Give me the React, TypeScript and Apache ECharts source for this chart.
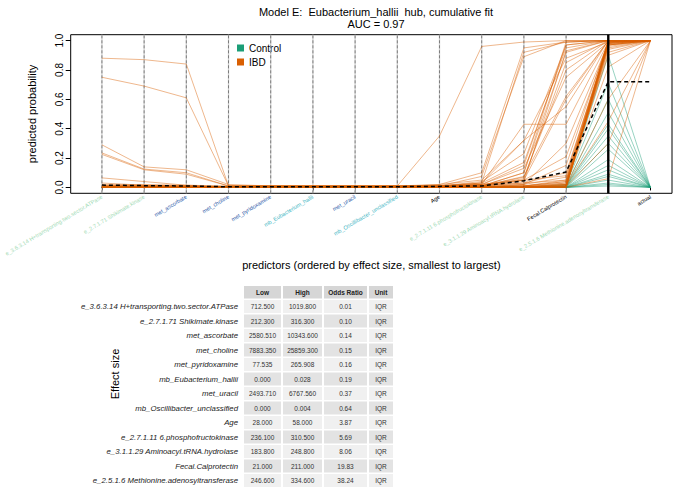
import React, { useEffect, useRef } from "react";
import * as echarts from "echarts";

const FONT = '"Liberation Sans", Arial, Helvetica, sans-serif';

const predictors = [
  "e_3.6.3.14 H+transporting.two.sector.ATPase",
  "e_2.7.1.71 Shikimate.kinase",
  "met_ascorbate",
  "met_choline",
  "met_pyridoxamine",
  "mb_Eubacterium_hallii",
  "met_uracil",
  "mb_Oscillibacter_unclassified",
  "Age",
  "e_2.7.1.11 6.phosphofructokinase",
  "e_3.1.1.29 Aminoacyl.tRNA.hydrolase",
  "Fecal.Calprotectin",
  "e_2.5.1.6 Methionine.adenosyltransferase",
  "actual",
];
const predictorColors = [
  "#a1dab4", "#a1dab4", "#2c5aa8", "#2c5aa8", "#2c5aa8", "#41b6c4", "#2c5aa8",
  "#41b6c4", "#000000", "#a1dab4", "#a1dab4", "#000000", "#a1dab4", "#000000",
];
const positions = [1, 2, 3, 4, 5, 6, 7, 8, 9, 10, 11, 12, 13, 14];
const yTicks = [0, 0.2, 0.4, 0.6, 0.8, 1.0];

const IBD_ACTUAL = 1;
const CONTROL_ACTUAL = 0;

// predicted probability per predictor step (c1..c13) for each IBD subject
const ibdPaths = [
  [0.88, 0.87, 0.84, 0.01, 0.01, 0.01, 0.01, 0.01, 0.01, 0.02, 0.15, 0.97, 1.0],
  [0.75, 0.69, 0.61, 0.01, 0.01, 0.01, 0.01, 0.01, 0.01, 0.01, 0.1, 0.92, 1.0],
  [0.29, 0.14, 0.12, 0.02, 0.01, 0.01, 0.01, 0.01, 0.01, 0.03, 0.92, 0.99, 1.0],
  [0.235, 0.125, 0.1, 0.01, 0.01, 0.01, 0.01, 0.01, 0.02, 0.05, 0.32, 0.88, 0.99],
  [0.225, 0.12, 0.09, 0.01, 0.01, 0.01, 0.01, 0.01, 0.01, 0.02, 0.43, 0.43, 0.99],
  [0.065, 0.04, 0.015, 0.01, 0.01, 0.01, 0.01, 0.01, 0.01, 0.01, 0.07, 0.8, 1.0],
  [0.03, 0.015, 0.01, 0.005, 0.005, 0.005, 0.005, 0.005, 0.01, 0.02, 0.05, 0.6, 1.0],
  [0.01, 0.01, 0.01, 0, 0, 0, 0, 0.01, 0.35, 0.96, 0.99, 1.0, 1.0],
  [0.02, 0.02, 0.015, 0.005, 0.005, 0.005, 0.005, 0.005, 0.02, 0.1, 0.95, 0.99, 1.0],
  [0.01, 0.01, 0.01, 0, 0, 0, 0, 0, 0.01, 0.075, 0.89, 1.0, 1.0],
  [0.01, 0.01, 0.01, 0, 0, 0, 0, 0, 0.01, 0.04, 0.23, 0.97, 1.0],
  [0.01, 0.01, 0.01, 0, 0, 0, 0, 0, 0.01, 0.03, 0.17, 0.95, 1.0],
  [0.01, 0.01, 0.005, 0, 0, 0, 0, 0, 0.005, 0.02, 0.13, 0.75, 0.99],
  [0.01, 0.01, 0.005, 0, 0, 0, 0, 0, 0.005, 0.01, 0.1, 0.99, 1.0],
  [0.005, 0.005, 0.005, 0, 0, 0, 0, 0, 0.005, 0.01, 0.075, 0.62, 1.0],
  [0.005, 0.005, 0.005, 0, 0, 0, 0, 0, 0.005, 0.01, 0.05, 0.21, 0.98],
  [0.005, 0.005, 0.005, 0, 0, 0, 0, 0, 0.005, 0.01, 0.03, 0.1, 0.97],
  [0.005, 0.005, 0.005, 0, 0, 0, 0, 0, 0.005, 0.005, 0.02, 0.07, 0.99],
  [0.005, 0, 0, 0, 0, 0, 0, 0, 0, 0.005, 0.02, 0.15, 1.0],
  [0.005, 0, 0, 0, 0, 0, 0, 0, 0, 0.005, 0.01, 0.05, 0.99],
  [0, 0, 0, 0, 0, 0, 0, 0, 0.01, 0.03, 0.32, 0.55, 1.0],
  [0, 0, 0, 0, 0, 0, 0, 0, 0, 0.01, 0.06, 0.85, 1.0],
  [0, 0, 0, 0, 0, 0, 0, 0, 0, 0.01, 0.04, 0.93, 1.0],
  [0, 0, 0, 0, 0, 0, 0, 0, 0, 0, 0.02, 0.3, 0.98],
  [0, 0, 0, 0, 0, 0, 0, 0, 0, 0, 0.01, 0.04, 1.0],
  [0, 0, 0, 0, 0, 0, 0, 0, 0, 0, 0.01, 0.03, 0.99],
  [0, 0, 0, 0, 0, 0, 0, 0, 0, 0, 0.01, 0.02, 0.99],
  [0, 0, 0, 0, 0, 0, 0, 0, 0, 0, 0.005, 0.02, 0.98],
  [0, 0, 0, 0, 0, 0, 0, 0, 0, 0, 0.005, 0.01, 0.97],
  [0, 0, 0, 0, 0, 0, 0, 0, 0, 0, 0, 0.01, 1.0],
  [0, 0, 0, 0, 0, 0, 0, 0, 0, 0, 0, 0.01, 0.99],
  [0, 0, 0, 0, 0, 0, 0, 0, 0, 0, 0, 0.005, 0.96],
  [0, 0, 0, 0, 0, 0, 0, 0, 0, 0, 0, 0.005, 0.95],
  [0, 0, 0, 0, 0, 0, 0, 0, 0, 0, 0, 0, 0.99],
  [0, 0, 0, 0, 0, 0, 0, 0, 0, 0, 0, 0, 0.98],
  [0, 0, 0, 0, 0, 0, 0, 0, 0, 0, 0, 0, 0.97],
  [0, 0, 0, 0, 0, 0, 0, 0, 0, 0, 0, 0.02, 0.94],
  [0, 0, 0, 0, 0, 0, 0, 0, 0, 0, 0, 0.03, 0.92],
  [0, 0, 0, 0, 0, 0, 0, 0, 0, 0, 0.01, 0.04, 0.9],
  [0, 0, 0, 0, 0, 0, 0, 0, 0, 0, 0, 0.02, 0.82],
  [0, 0, 0, 0, 0, 0, 0, 0, 0, 0, 0, 0.01, 0.6],
  [0, 0, 0, 0, 0, 0, 0, 0, 0, 0, 0, 0.01, 0.45],
  [0, 0, 0, 0, 0, 0, 0, 0, 0, 0, 0, 0.005, 0.3],
  [0, 0, 0, 0, 0, 0, 0, 0, 0, 0, 0, 0, 0.06],
  [0, 0, 0, 0, 0, 0, 0, 0, 0, 0.01, 0.03, 0.05, 0.97],
  [0, 0, 0, 0, 0, 0, 0, 0, 0, 0.02, 0.05, 0.08, 1.0],
];

// predicted probability per predictor step (c1..c13) for each Control subject
const controlPaths = [
  [0, 0, 0, 0, 0, 0, 0, 0, 0, 0, 0, 0.01, 0.9],
  [0, 0, 0, 0, 0, 0, 0, 0, 0, 0, 0, 0.02, 0.71],
  [0, 0, 0, 0, 0, 0, 0, 0, 0, 0, 0, 0.01, 0.6],
  [0, 0, 0, 0, 0, 0, 0, 0, 0, 0, 0, 0.01, 0.51],
  [0, 0, 0, 0, 0, 0, 0, 0, 0, 0, 0, 0.01, 0.43],
  [0, 0, 0, 0, 0, 0, 0, 0, 0, 0, 0, 0.005, 0.4],
  [0, 0, 0, 0, 0, 0, 0, 0, 0, 0, 0, 0.005, 0.35],
  [0, 0, 0, 0, 0, 0, 0, 0, 0, 0, 0, 0.005, 0.3],
  [0, 0, 0, 0, 0, 0, 0, 0, 0, 0, 0, 0, 0.26],
  [0, 0, 0, 0, 0, 0, 0, 0, 0, 0, 0, 0, 0.19],
  [0, 0, 0, 0, 0, 0, 0, 0, 0, 0, 0, 0, 0.15],
  [0, 0, 0, 0, 0, 0, 0, 0, 0, 0, 0, 0, 0.12],
  [0, 0, 0, 0, 0, 0, 0, 0, 0, 0, 0, 0, 0.09],
  [0, 0, 0, 0, 0, 0, 0, 0, 0, 0, 0, 0, 0.075],
  [0, 0, 0, 0, 0, 0, 0, 0, 0, 0, 0, 0, 0.05],
  [0, 0, 0, 0, 0, 0, 0, 0, 0, 0, 0, 0, 0.03],
  [0, 0, 0, 0, 0, 0, 0, 0, 0, 0, 0, 0, 0.02],
  [0, 0, 0, 0, 0, 0, 0, 0, 0, 0, 0, 0, 0.01],
];

// mean curve (dashed)
const meanPath = [0.016, 0.012, 0.01, 0.004, 0.004, 0.004, 0.004, 0.005, 0.007, 0.01, 0.045, 0.105, 0.72, 0.72];

// effect size table
const tableHeader = ["Low", "High", "Odds Ratio", "Unit"];
const tableNames = [
  "e_3.6.3.14 H+transporting.two.sector.ATPase",
  "e_2.7.1.71 Shikimate.kinase",
  "met_ascorbate",
  "met_choline",
  "met_pyridoxamine",
  "mb_Eubacterium_hallii",
  "met_uracil",
  "mb_Oscillibacter_unclassified",
  "Age",
  "e_2.7.1.11 6.phosphofructokinase",
  "e_3.1.1.29 Aminoacyl.tRNA.hydrolase",
  "Fecal.Calprotectin",
  "e_2.5.1.6 Methionine.adenosyltransferase",
];
const tableLow = ["712.500", "212.300", "2580.510", "7883.350", "77.535", "0.000", "2493.710", "0.000", "28.000", "236.100", "183.800", "21.000", "246.600"];
const tableHigh = ["1019.800", "316.300", "10343.600", "25859.300", "265.908", "0.028", "6767.560", "0.004", "58.000", "310.500", "248.800", "211.000", "334.600"];
const tableOdds = ["0.01", "0.10", "0.14", "0.15", "0.16", "0.19", "0.37", "0.64", "3.87", "5.69", "8.06", "19.83", "38.24"];
const tableUnit = ["IQR", "IQR", "IQR", "IQR", "IQR", "IQR", "IQR", "IQR", "IQR", "IQR", "IQR", "IQR", "IQR"];

const IBD_COLOR = "#d95f02";
const CONTROL_COLOR = "#1b9e77";

function buildTable(): any[] {
  const els: any[] = [];
  const colX = [244, 283, 324, 369];
  const colW = [37, 39, 43, 24];
  const top = 286;
  const headH = 14;
  const rowH = 14.5;
  const gap = 1.5;
  tableHeader.forEach((h, c) => {
    els.push({ type: "rect", shape: { x: colX[c], y: top, width: colW[c], height: headH - gap }, style: { fill: "#d6d6d6" } });
    els.push({
      type: "text", x: colX[c] + colW[c] / 2, y: top + (headH - gap) / 2,
      style: { text: h, fontSize: 6.5, fontWeight: "bold", fontFamily: FONT, fill: "#222", textAlign: "center", textVerticalAlign: "middle" },
    });
  });
  const cols = [tableLow, tableHigh, tableOdds, tableUnit];
  tableNames.forEach((n, r) => {
    const y0 = top + headH + r * rowH;
    const fill = r % 2 === 0 ? "#f0f0f0" : "#e3e3e3";
    els.push({
      type: "text", x: 238, y: y0 + (rowH - gap) / 2,
      style: { text: n, fontSize: 7.8, fontStyle: "italic", fontFamily: FONT, fill: "#222", textAlign: "right", textVerticalAlign: "middle" },
    });
    cols.forEach((arr, c) => {
      els.push({ type: "rect", shape: { x: colX[c], y: y0, width: colW[c], height: rowH - gap }, style: { fill } });
      els.push({
        type: "text", x: colX[c] + colW[c] / 2, y: y0 + (rowH - gap) / 2,
        style: { text: arr[r], fontSize: 6.5, fontFamily: FONT, fill: "#333", textAlign: "center", textVerticalAlign: "middle" },
      });
    });
  });
  els.push({
    type: "text", x: 115, y: 374, rotation: Math.PI / 2,
    style: { text: "Effect size", fontSize: 11, fontFamily: FONT, fill: "#000", textAlign: "center", textVerticalAlign: "middle" },
  });
  return els;
}

export default function App() {
  const ref = useRef<HTMLDivElement>(null);
  useEffect(() => {
    if (!ref.current) return;
    const chart = echarts.init(ref.current, undefined, { renderer: "svg" });

    const rich: any = {};
    predictorColors.forEach((c, i) => {
      rich["s" + i] = { color: c, fontSize: 5.6, fontFamily: FONT };
    });

    const series: any[] = [];
    // vertical guide lines at predictor steps c1..c12
    positions.slice(0, 12).forEach((p) => {
      series.push({
        type: "line", data: [[p, -0.04], [p, 1.04]], symbol: "none", silent: true,
        lineStyle: { color: "#d0d0d0", width: 1.3 }, z: 1,
      });
      series.push({
        type: "line", data: [[p, -0.04], [p, 1.04]], symbol: "none", silent: true,
        lineStyle: { color: "#444", width: 0.6, type: [3, 2] }, z: 1,
      });
    });
    controlPaths.forEach((row) => {
      const vals = [...row, CONTROL_ACTUAL];
      series.push({
        name: "Control", type: "line", symbol: "none", silent: true,
        data: vals.map((v, j) => [positions[j], v]),
        lineStyle: { color: CONTROL_COLOR, width: 1, opacity: 0.45 }, z: 2,
      });
    });
    ibdPaths.forEach((row) => {
      const vals = [...row, IBD_ACTUAL];
      series.push({
        name: "IBD", type: "line", symbol: "none", silent: true,
        data: vals.map((v, j) => [positions[j], v]),
        lineStyle: { color: IBD_COLOR, width: 1, opacity: 0.45 }, z: 3,
      });
    });
    // solid line at the last predictor
    series.push({
      type: "line", data: [[positions[12], -0.04], [positions[12], 1.04]], symbol: "none", silent: true,
      lineStyle: { color: "#000", width: 2.4 }, z: 4,
    });
    series.push({
      type: "line", symbol: "none", silent: true,
      data: meanPath.map((v, j) => [positions[j], v]),
      lineStyle: { color: "#000", width: 1.5, type: [4, 3] }, z: 5,
    });

    const graphic: any[] = [
      { type: "rect", shape: { x: 237, y: 44.5, width: 7, height: 7 }, style: { fill: CONTROL_COLOR } },
      { type: "text", x: 249, y: 48, style: { text: "Control", fontSize: 10, fontFamily: FONT, fill: "#000", textVerticalAlign: "middle" } },
      { type: "rect", shape: { x: 237, y: 58.5, width: 7, height: 7 }, style: { fill: IBD_COLOR } },
      { type: "text", x: 249, y: 62, style: { text: "IBD", fontSize: 10, fontFamily: FONT, fill: "#000", textVerticalAlign: "middle" } },
      ...buildTable(),
    ];

    chart.setOption({
      animation: false,
      backgroundColor: "#fff",
      title: {
        text: "Model E:  Eubacterium_hallii  hub, cumulative fit",
        subtext: "AUC = 0.97",
        left: 371, top: 1, textAlign: "center", itemGap: 1,
        textStyle: { fontSize: 11, fontWeight: "normal", color: "#000", fontFamily: FONT },
        subtextStyle: { fontSize: 11, color: "#000", fontFamily: FONT },
      },
      grid: { left: 70.7, right: 13, top: 34.7, bottom: 300.7, show: true, borderColor: "#000", borderWidth: 1, backgroundColor: "transparent" },
      xAxis: {
        type: "value", min: 0.26, max: 14.51,
        splitLine: { show: false },
        axisLine: { show: false },
        axisTick: { show: true, customValues: positions, length: 3, lineStyle: { color: "#000" } },
        axisLabel: {
          customValues: positions, rotate: 31, margin: 3, fontSize: 5.6, fontFamily: FONT,
          formatter: (v: number) => {
            const i = Math.round(v) - 1;
            return "{s" + i + "|" + predictors[i] + "}";
          },
          rich,
        },
        name: "predictors (ordered by effect size, smallest to largest)",
        nameLocation: "middle", nameGap: 63,
        nameTextStyle: { fontSize: 11, color: "#000", fontFamily: FONT },
      },
      yAxis: {
        type: "value", min: -0.04, max: 1.04,
        splitLine: { show: false },
        axisLine: { show: false },
        axisTick: { show: true, customValues: yTicks, length: 5, lineStyle: { color: "#000" } },
        axisLabel: {
          customValues: yTicks, rotate: 90, margin: 6, fontSize: 10, color: "#000", fontFamily: FONT,
          formatter: (v: number) => v.toFixed(1),
        },
        name: "predicted probability", nameLocation: "middle", nameGap: 33, nameRotate: 90,
        nameTextStyle: { fontSize: 11, color: "#000", fontFamily: FONT },
      },
      series,
      graphic,
    });
    return () => chart.dispose();
  }, []);
  return <div ref={ref} style={{ position: "fixed", left: 0, top: 0, width: 685, height: 494 }} />;
}
